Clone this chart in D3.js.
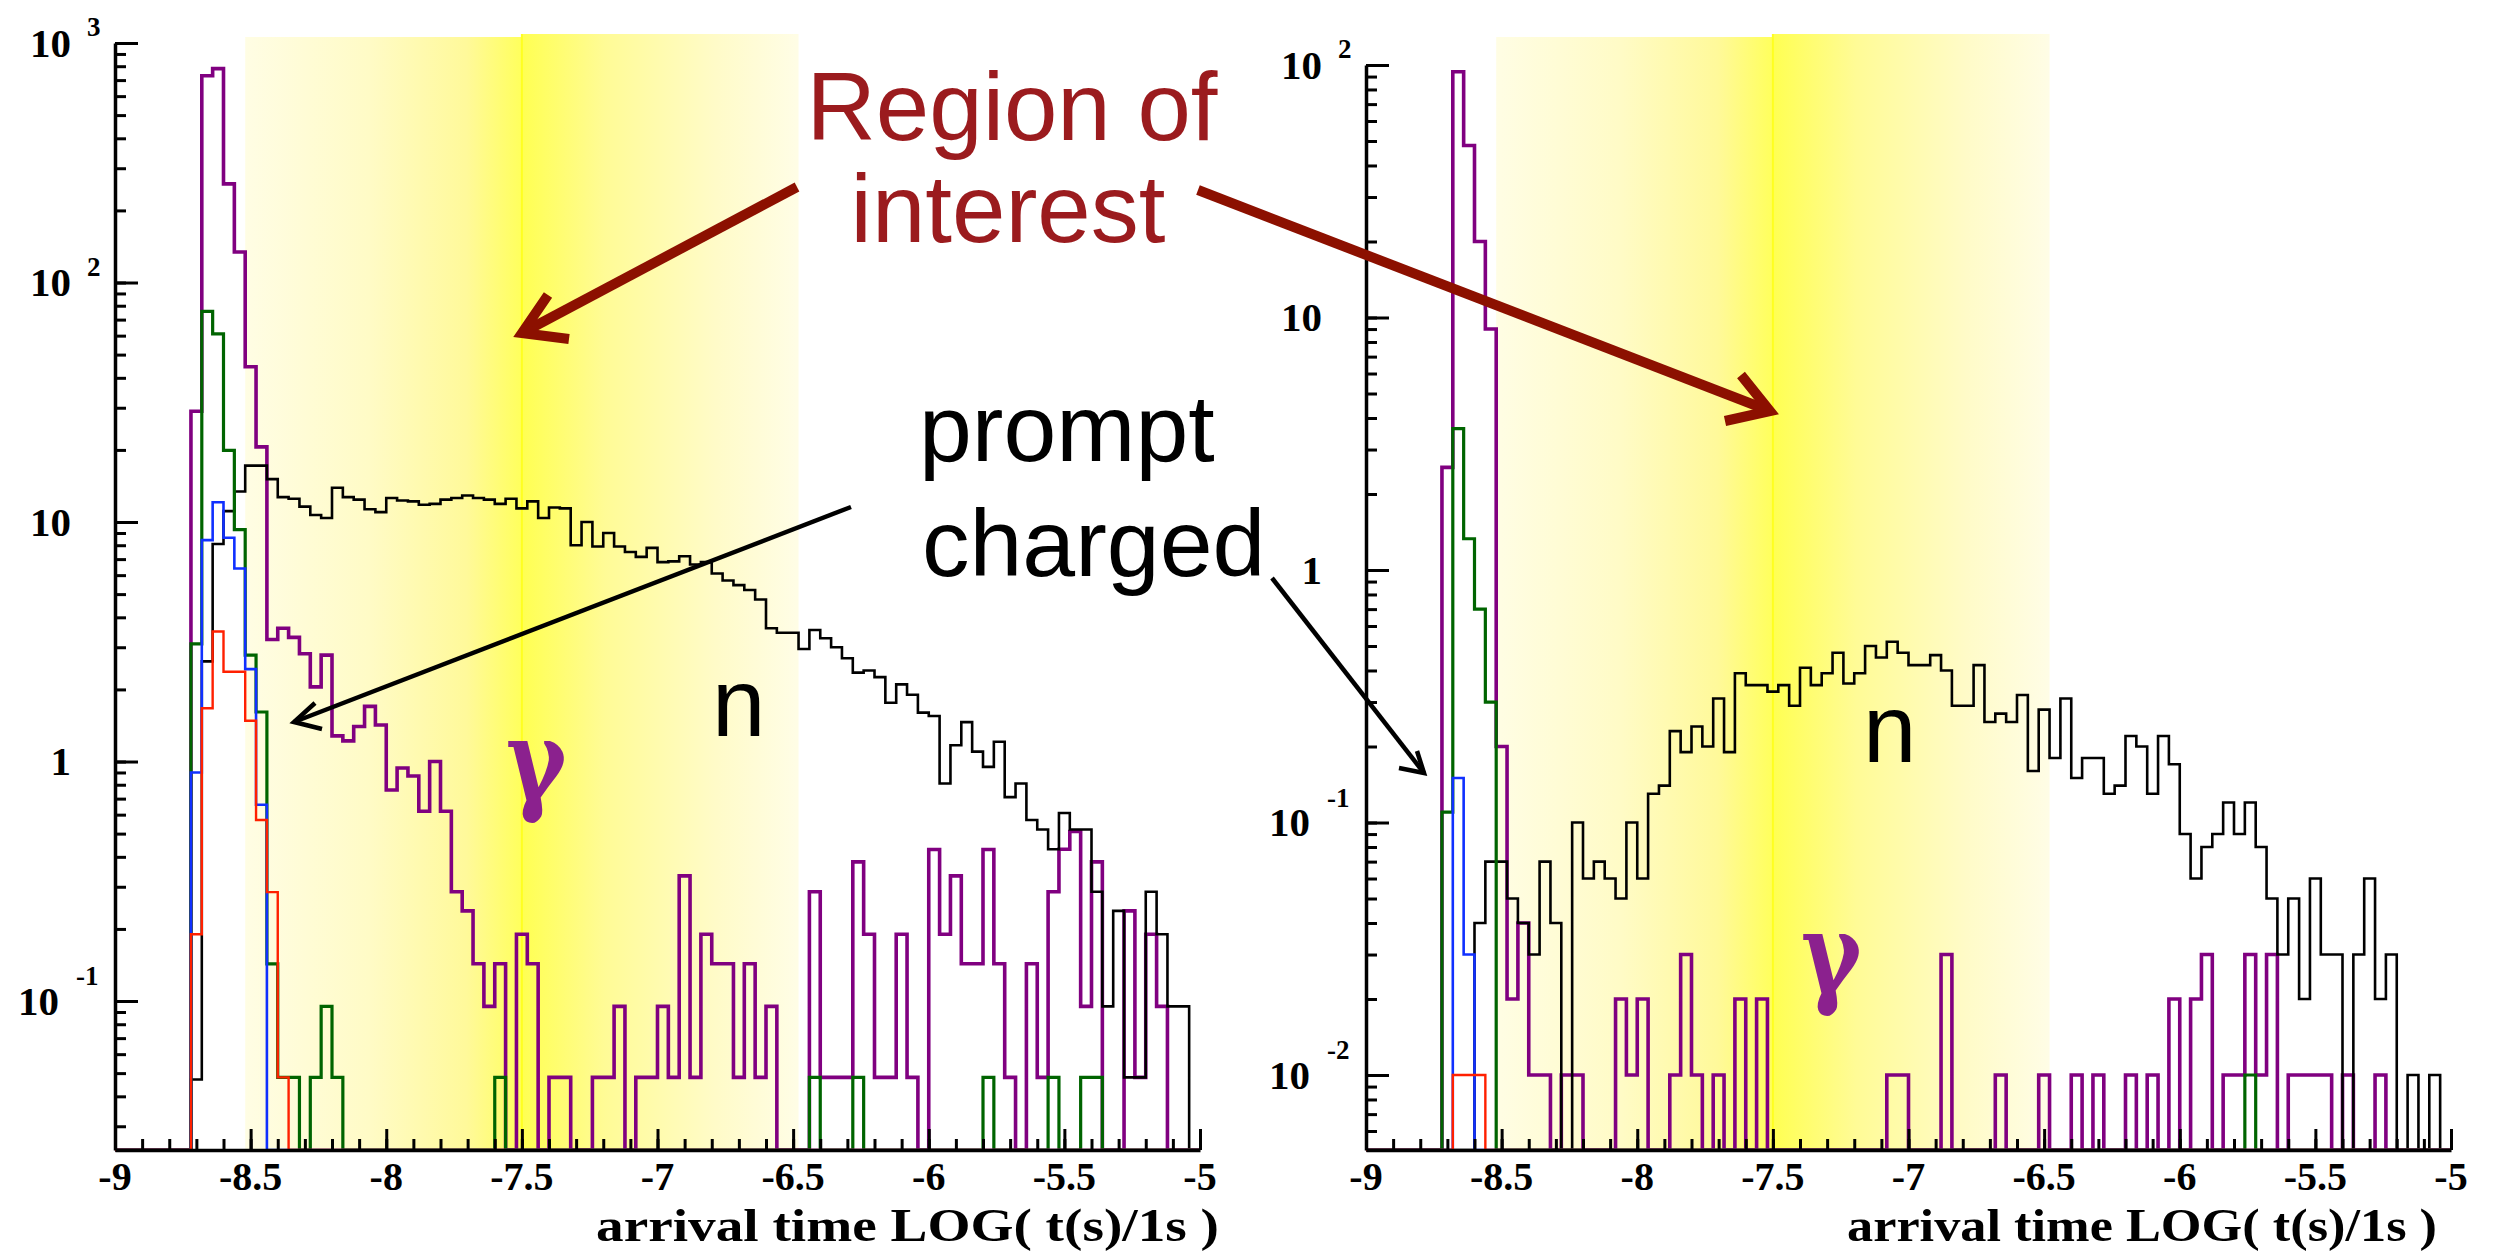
<!DOCTYPE html>
<html><head><meta charset="utf-8">
<script src="https://cdn.jsdelivr.net/npm/d3@7"></script>
<style>body{margin:0;background:#fff;}</style>
</head><body>
<svg id="c" width="2493" height="1252" xmlns="http://www.w3.org/2000/svg"></svg>
<script>
// ---------------- DATA ----------------
const xMin = -9, xMax = -5, binWidth = 0.04;
const xMajorTicks = [-9, -8.5, -8, -7.5, -7, -6.5, -6, -5.5, -5];
const xTickLabels = ["-9", "-8.5", "-8", "-7.5", "-7", "-6.5", "-6", "-5.5", "-5"];
const xTitle = "arrival time LOG( t(s)/1s )";
const leftYTicks = [[1000, "10", "3"], [100, "10", "2"], [10, "10", ""], [1, "1", ""], [0.1, "10", "-1"]];
const rightYTicks = [[100, "10", "2"], [10, "10", ""], [1, "1", ""], [0.1, "10", "-1"], [0.01, "10", "-2"]];

// Left panel (100 bins from -9 to -5)
const leftBlack = [0,0,0,0,0,0,0,0.047,2.62,8.1, 11.1,13.4,17.2,17.2,15.1,12.7,12.5,11.6,10.7,10.4,
  13.9,12.7,12.4,11.3,11.0,12.6,12.3,12.2,11.8,11.9, 12.4,12.6,12.9,12.6,12.4,11.9,12.5,11.4,12.2,10.4,
  11.5,11.4,8.0,10.0,7.9,9.0,7.9,7.5,7.15,7.8, 6.8,6.85,7.2,6.65,6.8,6.1,5.7,5.45,5.2,4.75,
  3.6,3.45,3.45,2.95,3.54,3.27,3.0,2.7,2.35,2.4, 2.25,1.76,2.1,1.9,1.6,1.55,0.81,1.17,1.46,1.1,
  0.95,1.21,0.71,0.81,0.57,0.52,0.43,0.61,0.52,0.52, 0.286,0.095,0.238,0.048,0.048,0.286,0.19,0.095,0.095,0];
const leftPurple = [0,0,0,0,0,0,0,29,730,782, 258,134,44.5,20.6,3.23,3.6,3.3,2.82,2.05,2.78,
  1.28,1.22,1.40,1.70,1.42,0.76,0.94,0.87,0.62,1.0, 0.62,0.286,0.238,0.143,0.095,0.143,0,0.19,0.143,0,
  0.048,0.048,0,0,0.048,0.048,0.095,0,0.048,0.048, 0.095,0.048,0.333,0.048,0.19,0.143,0.143,0.048,0.143,0.048,
  0.095,0,0,0,0.286,0.048,0.048,0.048,0.381,0.19, 0.048,0.048,0.19,0.048,0,0.429,0.19,0.333,0.143,0.143,
  0.429,0.143,0.048,0,0.143,0.048,0.286,0.43,0.51,0.095, 0.381,0,0,0.238,0.048,0.19,0.095,0,0,0];
const leftGreen = [0,0,0,0,0,0,0,3.1,75.7,61, 19.9,9.3,2.78,1.61,0.143,0.048,0.048,0,0.048,0.095,
  0.048,0,0,0,0,0,0,0,0,0, 0,0,0,0,0,0.048,0,0,0,0,
  0,0,0,0,0,0,0,0,0,0, 0,0,0,0,0,0,0,0,0,0,
  0,0,0,0,0.048,0,0,0,0.048,0, 0,0,0,0,0,0,0,0,0,0,
  0.048,0,0,0,0,0,0.048,0,0,0.048, 0.048,0,0,0,0,0,0,0,0,0];
const leftBlue = [0,0,0,0,0,0,0,0.90,8.4,12.1, 8.6,6.4,2.43,0.66,0,0,0,0,0,0,
  0,0,0,0,0,0,0,0,0,0, 0,0,0,0,0,0,0,0,0,0, 0,0,0,0,0,0,0,0,0,0,
  0,0,0,0,0,0,0,0,0,0, 0,0,0,0,0,0,0,0,0,0, 0,0,0,0,0,0,0,0,0,0,
  0,0,0,0,0,0,0,0,0,0, 0,0,0,0,0,0,0,0,0,0];
const leftRed = [0,0,0,0,0,0,0,0.19,1.67,3.49, 2.37,2.37,1.48,0.57,0.285,0.048,0,0,0,0,
  0,0,0,0,0,0,0,0,0,0, 0,0,0,0,0,0,0,0,0,0, 0,0,0,0,0,0,0,0,0,0,
  0,0,0,0,0,0,0,0,0,0, 0,0,0,0,0,0,0,0,0,0, 0,0,0,0,0,0,0,0,0,0,
  0,0,0,0,0,0,0,0,0,0, 0,0,0,0,0,0,0,0,0,0];

// Right panel
const rightBlack = [0,0,0,0,0,0,0,0,0,0, 0.04,0.07,0.07,0.05,0.04,0.03,0.07,0.04,0,0.1,
  0.06,0.07,0.06,0.05,0.1,0.06,0.13,0.14,0.23,0.19, 0.24,0.2,0.31,0.19,0.39,0.35,0.35,0.33,0.35,0.29,
  0.41,0.35,0.39,0.47,0.355,0.39,0.5,0.45,0.52,0.47, 0.42,0.42,0.46,0.40,0.29,0.29,0.42,0.25,0.27,0.25,
  0.32,0.16,0.28,0.18,0.31,0.15,0.18,0.18,0.13,0.14, 0.22,0.2,0.13,0.22,0.17,0.09,0.06,0.08,0.09,0.12,
  0.09,0.12,0.08,0.05,0.03,0.05,0.02,0.06,0.03,0.03, 0,0.03,0.06,0.02,0.03,0,0.01,0,0.01,0];
const rightPurple = [0,0,0,0,0,0,0,2.55,94,48, 20,9.0,0.2,0.02,0.04,0.01,0.01,0,0.01,0.01,
  0,0,0,0.02,0.01,0.02,0,0,0.01,0.03, 0.01,0,0.01,0,0.02,0,0.02,0,0,0,
  0,0,0,0,0,0,0,0,0.01,0.01, 0,0,0,0.03,0,0,0,0,0.01,0,
  0,0,0.01,0,0,0.01,0,0.01,0,0, 0.01,0,0.01,0,0.02,0,0.02,0.03,0,0.01,
  0.01,0.03,0.01,0.03,0,0.01,0.01,0.01,0.01,0, 0.01,0,0,0.01,0,0,0,0,0,0];
const rightGreen = [0,0,0,0,0,0,0,0.11,3.63,1.33, 0.70,0.30,0,0,0,0,0,0,0,0,
  0,0,0,0,0,0,0,0,0,0, 0,0,0,0,0,0,0,0,0,0, 0,0,0,0,0,0,0,0,0,0,
  0,0,0,0,0,0,0,0,0,0, 0,0,0,0,0,0,0,0,0,0, 0,0,0,0,0,0,0,0,0,0,
  0,0.01,0,0,0,0,0,0,0,0, 0,0,0,0,0,0,0,0,0,0];
const rightBlue = [0,0,0,0,0,0,0,0,0.15,0.03, 0,0,0,0,0,0,0,0,0,0,
  0,0,0,0,0,0,0,0,0,0, 0,0,0,0,0,0,0,0,0,0, 0,0,0,0,0,0,0,0,0,0,
  0,0,0,0,0,0,0,0,0,0, 0,0,0,0,0,0,0,0,0,0, 0,0,0,0,0,0,0,0,0,0,
  0,0,0,0,0,0,0,0,0,0, 0,0,0,0,0,0,0,0,0,0];
const rightRed = [0,0,0,0,0,0,0,0,0.01,0.01, 0.01,0,0,0,0,0,0,0,0,0,
  0,0,0,0,0,0,0,0,0,0, 0,0,0,0,0,0,0,0,0,0, 0,0,0,0,0,0,0,0,0,0,
  0,0,0,0,0,0,0,0,0,0, 0,0,0,0,0,0,0,0,0,0, 0,0,0,0,0,0,0,0,0,0,
  0,0,0,0,0,0,0,0,0,0, 0,0,0,0,0,0,0,0,0,0];

const bandRange = [-8.52, -7.5, -6.48];

// ---------------- DRAW ----------------
const svg = d3.select("#c");
svg.append("rect").attr("width", 2493).attr("height", 1252).attr("fill", "#fff");
const defs = svg.append("defs");
const gL = defs.append("linearGradient").attr("id", "bandL").attr("x1", "0").attr("x2", "1").attr("y1", "0").attr("y2", "0");
[[0, "#fffde4"], [0.45, "#fffbc6"], [0.8, "#fff99a"], [1, "#ffff5c"]].forEach(s => gL.append("stop").attr("offset", s[0]).attr("stop-color", s[1]));
const gR = defs.append("linearGradient").attr("id", "bandR").attr("x1", "0").attr("x2", "1").attr("y1", "0").attr("y2", "0");
[[0, "#ffff52"], [0.3, "#fffb96"], [0.7, "#fffbc8"], [1, "#fffde6"]].forEach(s => gR.append("stop").attr("offset", s[0]).attr("stop-color", s[1]));

const edges = d3.range(101).map(i => xMin + i * binWidth);
const colors = { black: "#000000", purple: "#800080", green: "#006400", blue: "#1030ff", red: "#ff2000" };
const widths = { black: 2.6, purple: 3.6, green: 3.2, blue: 2.6, red: 2.4 };

function panel(cfg) {
  const xs = d3.scaleLinear().domain([xMin, xMax]).range([cfg.x0, cfg.x1]);
  const ys = d3.scaleLog().domain([cfg.yMin, cfg.yMax]).range([cfg.yB, cfg.yT]).clamp(true);
  const g = svg.append("g");
  g.append("rect").attr("x", xs(bandRange[0])).attr("y", 37).attr("width", xs(bandRange[1]) - xs(bandRange[0]))
    .attr("height", cfg.yB - 37).attr("fill", "url(#bandL)");
  g.append("rect").attr("x", xs(bandRange[1])).attr("y", 34).attr("width", xs(bandRange[2]) - xs(bandRange[1]))
    .attr("height", cfg.yB - 34).attr("fill", "url(#bandR)");
  g.append("line").attr("x1", xs(bandRange[1])).attr("x2", xs(bandRange[1])).attr("y1", 34).attr("y2", cfg.yB)
    .attr("stroke", "#ffff20").attr("stroke-width", 2);
  const line = d3.line();
  cfg.series.forEach(([vals, c]) => {
    const pts = [];
    vals.forEach((v, i) => {
      const y = v > 0 ? ys(v) : cfg.yB;
      pts.push([xs(edges[i]), y], [xs(edges[i + 1]), y]);
    });
    g.append("path").attr("d", line(pts)).attr("fill", "none").attr("stroke", colors[c])
      .attr("stroke-width", widths[c]).attr("stroke-linejoin", "miter");
  });
  const minorX = d3.range(41).map(i => xMin + i * 0.1);
  g.append("g").attr("transform", `translate(0,${cfg.yB})`)
    .call(d3.axisBottom(xs).tickValues(minorX).tickSize(-11).tickSizeOuter(0).tickFormat(""))
    .call(a => a.selectAll("line").attr("stroke", "#000").attr("stroke-width", 3))
    .call(a => a.select(".domain").attr("stroke", "#000").attr("stroke-width", 3.5));
  g.append("g").attr("transform", `translate(0,${cfg.yB})`)
    .call(d3.axisBottom(xs).tickValues(xMajorTicks).tickSize(-21).tickSizeOuter(0).tickFormat(""))
    .call(a => a.selectAll("line").attr("stroke", "#000").attr("stroke-width", 3))
    .call(a => a.select(".domain").remove());
  xMajorTicks.forEach((t, i) => {
    g.append("text").attr("x", xs(t)).attr("y", cfg.yB + 40).attr("text-anchor", "middle")
      .attr("font-family", "Liberation Serif").attr("font-weight", "bold").attr("font-size", 40).text(xTickLabels[i]);
  });
  g.append("text").attr("x", cfg.titleRight).attr("y", 1241).attr("text-anchor", "end")
    .attr("font-family", "Liberation Serif").attr("font-weight", "bold").attr("font-size", 47)
    .attr("textLength", cfg.titleLen).attr("lengthAdjust", "spacingAndGlyphs").text(xTitle);
  const lo = Math.floor(Math.log10(cfg.yMin)), hi = Math.ceil(Math.log10(cfg.yMax));
  const minorY = [];
  for (let d = lo; d < hi; d++) for (let k = 1; k <= 9; k++) { const v = k * Math.pow(10, d); if (v >= cfg.yMin && v <= cfg.yMax) minorY.push(v); }
  const majorY = cfg.yTicks.map(t => t[0]);
  g.append("g").attr("transform", `translate(${cfg.x0},0)`)
    .call(d3.axisLeft(ys).tickValues(minorY).tickSize(-11).tickSizeOuter(0).tickFormat(""))
    .call(a => a.selectAll("line").attr("stroke", "#000").attr("stroke-width", 3))
    .call(a => a.select(".domain").attr("stroke", "#000").attr("stroke-width", 3.5));
  g.append("g").attr("transform", `translate(${cfg.x0},0)`)
    .call(d3.axisLeft(ys).tickValues(majorY).tickSize(-23).tickSizeOuter(0).tickFormat(""))
    .call(a => a.selectAll("line").attr("stroke", "#000").attr("stroke-width", 3))
    .call(a => a.select(".domain").remove());
  cfg.yTicks.forEach(([v, base, ex]) => {
    const y = ys(v);
    const neg = ex.startsWith("-");
    g.append("text").attr("x", cfg.x0 - (neg ? 56 : 44)).attr("y", y + 13.5).attr("text-anchor", "end")
      .attr("font-family", "Liberation Serif").attr("font-weight", "bold").attr("font-size", 41).text(base);
    if (ex) g.append("text").attr("x", cfg.x0 - (neg ? 39 : 28)).attr("y", y - (neg ? 16 : 7)).attr("text-anchor", "start")
      .attr("font-family", "Liberation Serif").attr("font-weight", "bold").attr("font-size", 27).text(ex);
  });
  return { xs, ys };
}

panel({ x0: 115, x1: 1200, yB: 1150, yT: 43, yMin: Math.pow(10, -1.622), yMax: 1000, titleRight: 1219, titleLen: 623,
  yTicks: leftYTicks,
  series: [[leftPurple, "purple"], [leftBlack, "black"], [leftGreen, "green"], [leftBlue, "blue"], [leftRed, "red"]] });
panel({ x0: 1366, x1: 2451, yB: 1150, yT: 65, yMin: Math.pow(10, -2.297), yMax: 100, titleRight: 2437, titleLen: 590,
  yTicks: rightYTicks,
  series: [[rightPurple, "purple"], [rightBlack, "black"], [rightGreen, "green"], [rightBlue, "blue"], [rightRed, "red"]] });

// ---------------- ANNOTATIONS ----------------
const ann = svg.append("g");
const sans = "Liberation Sans";
ann.append("text").attr("x", 1012).attr("y", 140).attr("text-anchor", "middle").attr("font-family", sans)
  .attr("font-size", 96).attr("fill", "#9b1b1e").text("Region of");
ann.append("text").attr("x", 1008).attr("y", 242).attr("text-anchor", "middle").attr("font-family", sans)
  .attr("font-size", 96).attr("fill", "#9b1b1e").text("interest");
ann.append("text").attr("x", 919).attr("y", 461).attr("font-family", sans).attr("font-size", 95).attr("fill", "#000").text("prompt");
ann.append("text").attr("x", 922).attr("y", 576).attr("font-family", sans).attr("font-size", 95).attr("fill", "#000").text("charged");
ann.append("text").attr("x", 712).attr("y", 736).attr("font-family", sans).attr("font-size", 96).attr("fill", "#000").text("n");
ann.append("text").attr("x", 1863).attr("y", 762).attr("font-family", sans).attr("font-size", 96).attr("fill", "#000").text("n");
[[506, 800], [1801, 993]].forEach(([x, y]) => {
  ann.append("text").attr("transform", `translate(${x},${y}) scale(0.82,1)`).attr("font-family", "DejaVu Serif").attr("font-weight", "bold")
    .attr("font-size", 112).attr("fill", "#8b218e").text("γ");
});

function arrow(p0, tip, a1, a2, color, w) {
  ann.append("line").attr("x1", p0[0]).attr("y1", p0[1]).attr("x2", tip[0]).attr("y2", tip[1])
    .attr("stroke", color).attr("stroke-width", w);
  ann.append("path").attr("d", d3.line()([a1, tip, a2])).attr("fill", "none").attr("stroke", color)
    .attr("stroke-width", w).attr("stroke-linejoin", "miter");
}
arrow([797, 187], [522, 333], [548, 295], [569, 339], "#8c1000", 10);
arrow([1198, 190], [1770, 411], [1741, 375], [1725, 421], "#8c1000", 10);
arrow([851, 507], [294, 722], [315, 703], [322, 729], "#000", 4.5);
arrow([1272, 578], [1424, 773], [1399, 768], [1417, 751], "#000", 4.5);
</script>
</body></html>
